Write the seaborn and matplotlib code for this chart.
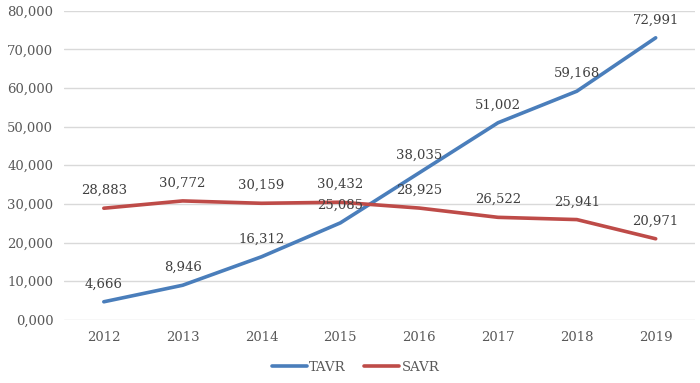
import matplotlib.pyplot as plt
import numpy as np
import seaborn as sns
import pandas as pd

years = ['2012', '2013', '2014', '2015', '2016', '2017', '2018', '2019']
tavr = [4666, 8946, 16312, 25085, 38035, 51002, 59168, 72991]
savr = [28883, 30772, 30159, 30432, 28925, 26522, 25941, 20971]

sns.set_style('white')
plt.rcParams.update({'font.family': ['DejaVu Serif'],
                     'font.size': 9.5})

df = pd.concat([pd.DataFrame({'year': years, 'value': tavr, 'series': 'TAVR'}),
                pd.DataFrame({'year': years, 'value': savr, 'series': 'SAVR'})])

fig, ax = plt.subplots(figsize=(7, 3.83), dpi=100)
fig.subplots_adjust(left=0.092, right=0.993, top=0.972, bottom=0.165)

sns.lineplot(ax=ax, data=df, x='year', y='value', hue='series',
             palette={'TAVR': '#4A7EBB', 'SAVR': '#BE4B48'}, linewidth=2.6, sort=False)

txt = '#404040'
for vals in (tavr, savr):
    for i, v in enumerate(vals):
        ax.annotate(f'{v:,}', (i, v), xytext=(0, 8), textcoords='offset points',
                    ha='center', va='bottom', color=txt, fontsize=9.5)

ax.set_ylim(0, 80000)
ax.set_xlim(-0.5, 7.5)
ax.set_yticks(np.arange(0, 80001, 10000))
ax.set_yticklabels([f'{t:,}' if t else '0,000' for t in range(0, 80001, 10000)])
ax.yaxis.grid(True, color='#D9D9D9', linewidth=1)
ax.set_axisbelow(True)
for s in ax.spines.values():
    s.set_visible(False)
ax.tick_params(axis='both', length=0, colors='#595959', labelsize=9.5, pad=8)
ax.set(xlabel='', ylabel='')

ax.legend(loc='upper center', bbox_to_anchor=(0.462, -0.095), ncol=2, frameon=False,
          handlelength=2.6, columnspacing=1.4, handletextpad=0.2, labelcolor='#595959')

fig.savefig('out.png', dpi=100)
